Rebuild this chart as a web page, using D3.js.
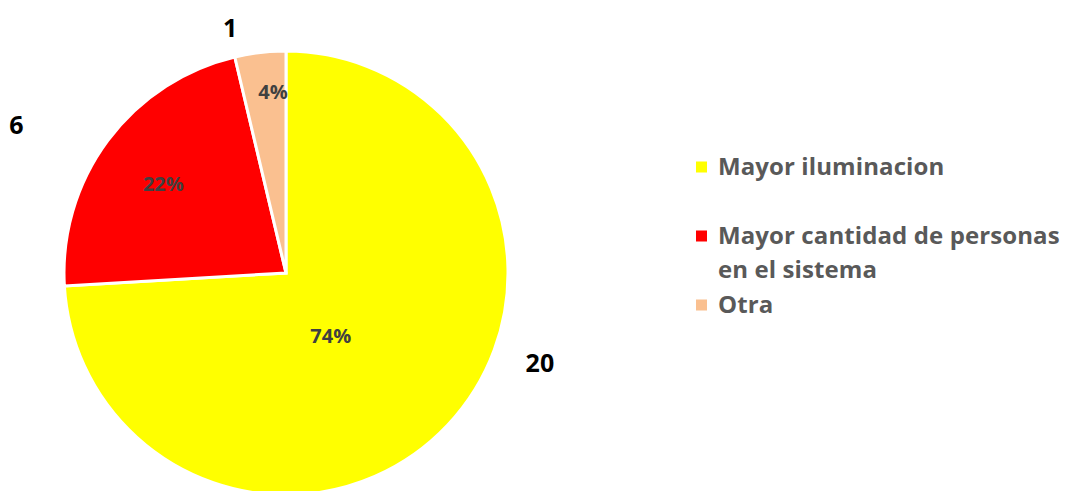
<!DOCTYPE html>
<html>
<head>
<meta charset="utf-8">
<script src="https://cdn.jsdelivr.net/npm/d3@7"></script>
<style>
  html, body { margin: 0; padding: 0; background: #fff; }
  svg { display: block; font-family: "Open Sans", "Liberation Sans", sans-serif; font-weight: bold; }
</style>
</head>
<body>
<svg id="chart" width="1069" height="491"></svg>
<script>
// Categories and counts
const categories = ["Mayor iluminacion", "Mayor cantidad de personas en el sistema", "Otra"];
const counts = [20, 6, 1];
const colors = ["#FFFF00", "#FF0000", "#FAC090"];

// Label placement (polar offsets from the pie centre: angle in degrees clockwise from 12 o'clock, radius in px)
const valueLabelPolar = [[109.3, 269], [298.9, 308], [347.2, 252]];
const pctLabelPolar   = [[144.5, 77],  [306.2, 152], [355.9, 182]];

const svg = d3.select("#chart");
const cx = 286, cy = 273, radius = 222;

const total = d3.sum(counts);
const data = categories.map((c, i) => ({ name: c, value: counts[i], color: colors[i], idx: i }));

const pie = d3.pie().value(d => d.value).sort(null);
const arc = d3.arc().innerRadius(0).outerRadius(radius);
const arcs = pie(data);

const g = svg.append("g").attr("transform", `translate(${cx},${cy})`);

g.selectAll("path.slice")
  .data(arcs)
  .join("path")
  .attr("class", "slice")
  .attr("d", arc)
  .attr("fill", d => d.data.color)
  .attr("stroke", "#fff")
  .attr("stroke-width", 3)
  .attr("stroke-linejoin", "miter");

const polar = ([deg, r]) => {
  const a = deg * Math.PI / 180;
  return [r * Math.sin(a), -r * Math.cos(a)];
};

// percentage labels inside the slices
g.selectAll("text.pct")
  .data(arcs)
  .join("text")
  .attr("class", "pct")
  .attr("transform", d => `translate(${polar(pctLabelPolar[d.data.idx])})`)
  .attr("text-anchor", "middle")
  .attr("dominant-baseline", "central")
  .attr("font-size", 20)
  .attr("fill", "#404040")
  .text(d => Math.round(d.data.value / total * 100) + "%");

// count labels outside the pie
g.selectAll("text.val")
  .data(arcs)
  .join("text")
  .attr("class", "val")
  .attr("transform", d => `translate(${polar(valueLabelPolar[d.data.idx])})`)
  .attr("text-anchor", "middle")
  .attr("dominant-baseline", "central")
  .attr("font-size", 25)
  .attr("fill", "#000")
  .text(d => d.data.value);

// Legend
const legendX = 696, lineH = 34;
const legendY = [167, 236, 305];
const wrapWidth = 350;

const legend = svg.append("g");
data.forEach((d, i) => {
  const item = legend.append("g").attr("transform", `translate(${legendX},${legendY[i]})`);
  item.append("rect")
    .attr("x", 0).attr("y", -5.5)
    .attr("width", 11).attr("height", 11)
    .attr("fill", d.color);
  const text = item.append("text")
    .attr("x", 22)
    .attr("font-size", 24)
    .attr("letter-spacing", 0.1)
    .attr("fill", "#595959");
  // simple word wrap
  const words = d.name.split(" ");
  let line = [], lineNo = 0;
  let tspan = text.append("tspan").attr("x", 22).attr("y", 0).attr("dy", "0.35em");
  words.forEach(w => {
    line.push(w);
    tspan.text(line.join(" "));
    if (tspan.node().getComputedTextLength() > wrapWidth && line.length > 1) {
      line.pop();
      tspan.text(line.join(" "));
      line = [w];
      lineNo++;
      tspan = text.append("tspan").attr("x", 22).attr("y", lineNo * lineH).attr("dy", "0.35em").text(w);
    }
  });
});
</script>
</body>
</html>
